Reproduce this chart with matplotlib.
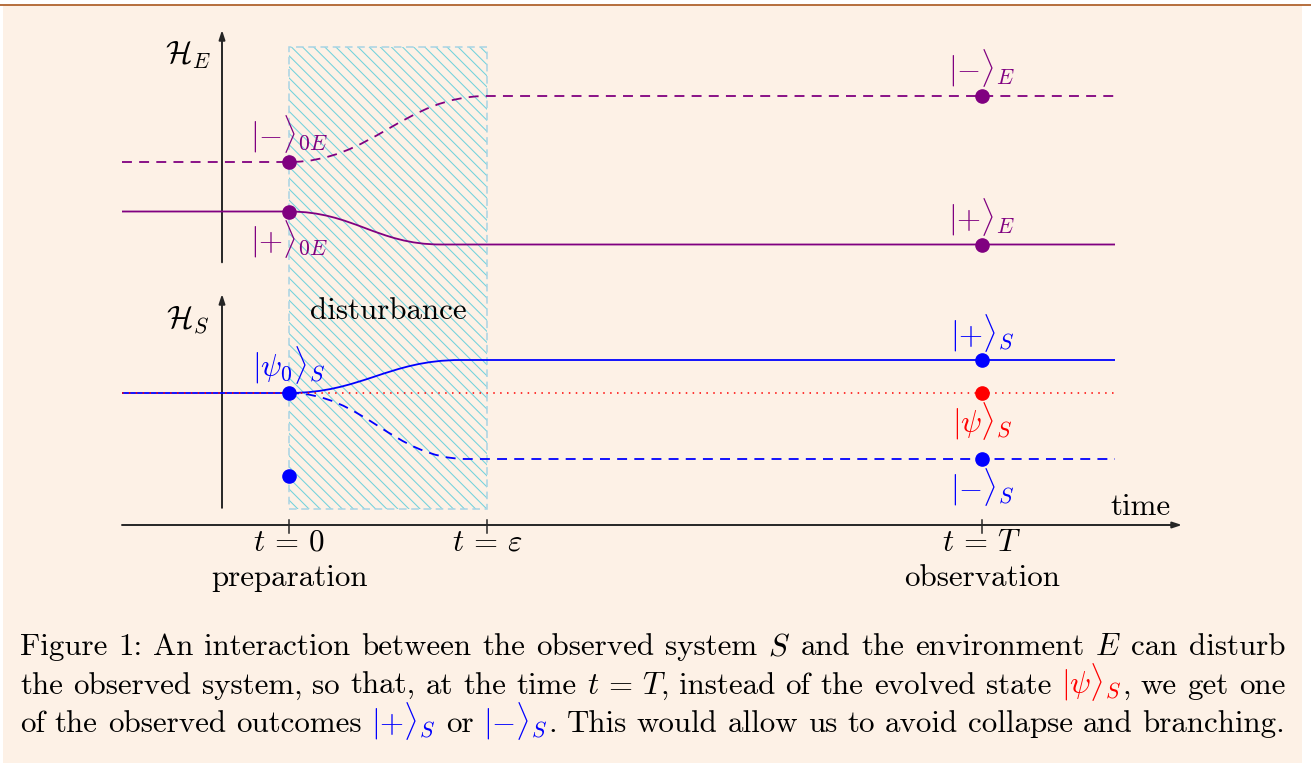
import re
import matplotlib
matplotlib.use("Agg")
import matplotlib.pyplot as plt
from matplotlib.path import Path
from matplotlib.patches import PathPatch, Rectangle

plt.rcParams['font.family'] = 'cmr10'
plt.rcParams['mathtext.fontset'] = 'cm'
plt.rcParams['axes.unicode_minus'] = False
plt.rcParams['axes.formatter.use_mathtext'] = True
plt.rcParams['hatch.linewidth'] = 0.75

# ---------------- data ----------------
t_marks = [0.0, 3.0, 10.5]                       # t = 0, t = eps, t = T
t_labels = [r'$t\,=\,0$', r'$t\,=\,\varepsilon$', r'$t\,=\,T$']
t_names = ['preparation', '', 'observation']

# environment states: start level at t=0, end level, time the transition settles
E_keys = ['+', '-']
E_start = [4.75, 5.5]
E_end = [4.25, 6.5]
E_settle = [2.3, 3.0]
E_start_labels = [r'$|{+}\rangle_{0E}$', r'$|{-}\rangle_{0E}$']
E_end_labels = [r'$|{+}\rangle_E$', r'$|{-}\rangle_E$']

# system states
S_start = 2.0
S_keys = ['+', '-']
S_end = [2.5, 1.0]
S_settle = [2.6, 2.7]
S_end_labels = [r'$|{+}\rangle_S$', r'$|{-}\rangle_S$']
S_psi = 2.0
S_extra_dot = 0.75
S_start_label = r'$|\psi_0\rangle_S$'
S_psi_label = r'$|\psi\rangle_S$'

caption_lines = [
    [("Figure 1: An interaction between the observed system $S$ and the environment $E$ can disturb", 'k', False)],
    [(r"the observed system, so that, at the time $t\,=\,T$, instead of the evolved state", 'k', False),
     (r"$|\psi\rangle_S$", 'red', False),
     (", we get one", 'k', True)],
    [("of the observed outcomes", 'k', False),
     (r"$|{+}\rangle_S$", 'blue', False),
     ("or", 'k', False),
     (r"$|{-}\rangle_S$", 'blue', False),
     (". This would allow us to avoid collapse and branching.", 'k', True)],
]

# ---------------- layout ----------------
W, H, DPI = 1311, 763, 100
U = 66.0           # pixels per diagram unit
X0, Y0 = 289.0, 525.0  # pixel of origin (t=0, time axis)

BG = '#fdf1e6'
PURPLE = '#800080'
BLUE = '#0000ff'
RED = '#ff0000'
AX = '#262626'
HATCH = '#72d2dc'
BORDER = '#a9d4e4'
FS = 22.3

fig = plt.figure(figsize=(W / DPI, H / DPI), dpi=DPI)
fig.patch.set_facecolor('white')

# background / caption axes in pixel units
cap = fig.add_axes([0, 0, 1, 1])
cap.set_xlim(0, W)
cap.set_ylim(H, 0)
cap.axis('off')
cap.add_patch(Rectangle((3, 5), 1299, H, facecolor=BG, edgecolor='none'))
cap.plot([0, W], [5, 5], color='#b0632e', lw=1.3, solid_capstyle='butt')

# diagram axes
ax = fig.add_axes([0, 0, 1, 1])
ax.set_xlim((0 - X0) / U, (W - X0) / U)
ax.set_ylim((Y0 - H) / U, Y0 / U)
ax.axis('off')
ax.patch.set_alpha(0)

x_left = (122 - X0) / U
x_right = (1115 - X0) / U
x_axis_end = (1182 - X0) / U
x_vert = (222 - X0) / U

# disturbance region
eps = t_marks[1]
ax.add_patch(Rectangle((0, 0.25), eps, 7.0, facecolor='none', edgecolor=HATCH,
                       hatch='\\\\\\', lw=0, zorder=1))
ax.add_patch(Rectangle((0, 0.25), eps, 7.0, facecolor='none', edgecolor=BORDER,
                       lw=1.1, linestyle=(0, (5, 3)), zorder=1.5))
ax.text(eps / 2, 3.12, 'disturbance', fontsize=FS, ha='center', va='baseline', zorder=5)

# axes arrows
arrow = dict(arrowstyle='-|>,head_length=0.55,head_width=0.18', color=AX, lw=1.4,
             shrinkA=0, shrinkB=0)
ax.annotate('', xy=(x_axis_end, 0), xytext=(x_left, 0), arrowprops=arrow, zorder=3)
ax.annotate('', xy=(x_vert, 7.5), xytext=(x_vert, 3.98), arrowprops=arrow, zorder=3)
ax.annotate('', xy=(x_vert, 3.5), xytext=(x_vert, 0.26), arrowprops=arrow, zorder=3)
ax.text(x_vert - 0.52, 7.12, r'$\mathcal{H}_E$', fontsize=FS, ha='center', va='center')
ax.text(x_vert - 0.52, 3.1, r'$\mathcal{H}_S$', fontsize=FS, ha='center', va='center')
ax.text(12.9, 0.15, 'time', fontsize=FS, ha='center', va='baseline')

for t, lab, name in zip(t_marks, t_labels, t_names):
    ax.plot([t, t], [0.08, -0.12], color=AX, lw=1.1, zorder=3)
    ax.text(t, -0.39, lab, fontsize=FS, ha='center', va='baseline', zorder=4)
    if name:
        ax.text(t, -0.93, name, fontsize=FS, ha='center', va='baseline')


def transition(y0, y1, t1, x_start, k=0.42):
    dx = t1
    verts = [(x_start, y0), (0, y0), (k * dx, y0), (t1 - k * dx, y1), (t1, y1), (x_right, y1)]
    codes = [Path.MOVETO, Path.LINETO, Path.CURVE4, Path.CURVE4, Path.CURVE4, Path.LINETO]
    return Path(verts, codes)


DASH = (0, (5.5, 4.0))
# environment lines
for key, y0, y1, t1 in zip(E_keys, E_start, E_end, E_settle):
    ls = '-' if key == '+' else DASH
    ax.add_patch(PathPatch(transition(y0, y1, t1, x_left), facecolor='none',
                           edgecolor=PURPLE, lw=1.3, linestyle=ls, zorder=4))
# system lines
for key, y1, t1 in zip(S_keys, S_end, S_settle):
    ls = '-' if key == '+' else DASH
    xs = x_left if key == '+' else 0.0
    ax.add_patch(PathPatch(transition(S_start, y1, t1, xs), facecolor='none',
                           edgecolor=BLUE, lw=1.3, linestyle=ls, zorder=4))
ax.plot([x_left, x_right], [S_psi, S_psi], color=RED, lw=1.1,
        linestyle=(0, (1, 3.5)), zorder=4.5)

T = t_marks[2]
MS = 9.5
# dots
ax.plot([0] * len(E_start), E_start, 'o', color=PURPLE, ms=MS, zorder=6)
ax.plot([T] * len(E_end), E_end, 'o', color=PURPLE, ms=MS, zorder=6)
ax.plot([0, 0], [S_start, S_extra_dot], 'o', color=BLUE, ms=MS, zorder=6)
ax.plot([T] * len(S_end), S_end, 'o', color=BLUE, ms=MS, zorder=6)
ax.plot([T], [S_psi], 'o', color=RED, ms=MS, zorder=6)

# state labels
ax.text(0, 4.33, E_start_labels[0], color=PURPLE, fontsize=FS, ha='center', va='center')
ax.text(0, 5.92, E_start_labels[1], color=PURPLE, fontsize=FS, ha='center', va='center')
ax.text(T, 4.66, E_end_labels[0], color=PURPLE, fontsize=FS, ha='center', va='center')
ax.text(T, 6.92, E_end_labels[1], color=PURPLE, fontsize=FS, ha='center', va='center')
ax.text(0, 2.42, S_start_label, color=BLUE, fontsize=FS, ha='center', va='center', zorder=7)
ax.text(T, 2.90, S_end_labels[0], color=BLUE, fontsize=FS, ha='center', va='center')
ax.text(T, 0.57, S_end_labels[1], color=BLUE, fontsize=FS, ha='center', va='center')
ax.text(T, 1.58, S_psi_label, color=RED, fontsize=FS, ha='center', va='center')

# caption, justified
tok_re = re.compile(r'\$[^$]*\$\S*|\S+')
fig.canvas.draw()
renderer = fig.canvas.get_renderer()
CX0, CX1 = 20, 1285
baselines = [655, 693.5, 732]
for line, yb in zip(caption_lines, baselines):
    items = []
    for text, color, attach in line:
        words = tok_re.findall(text)
        for i, w in enumerate(words):
            glue = not (i == 0 and attach)
            items.append((w, color, glue))
    objs = [cap.text(0, yb, w, color=c, fontsize=FS, ha='left', va='baseline')
            for w, c, g in items]
    widths = [o.get_window_extent(renderer).width for o in objs]
    ngaps = sum(1 for k, it in enumerate(items) if k > 0 and it[2])
    gap = (CX1 - CX0 - sum(widths)) / max(ngaps, 1)
    x = CX0
    for k, (o, w, it) in enumerate(zip(objs, widths, items)):
        if k > 0 and it[2]:
            x += gap
        o.set_x(x)
        x += w

fig.savefig('out.png', dpi=DPI, facecolor=fig.get_facecolor())
